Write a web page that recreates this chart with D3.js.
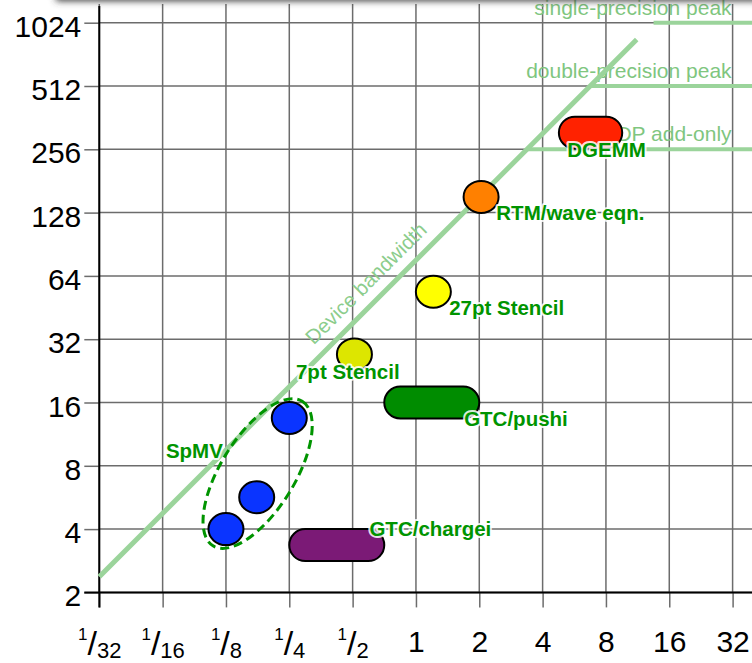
<!DOCTYPE html>
<html><head><meta charset="utf-8">
<script src="https://cdn.jsdelivr.net/npm/d3@7"></script>
<style>
body{margin:0;background:#fff;}
svg{display:block;font-family:"Liberation Sans",Arial,Helvetica,sans-serif;}
</style>
</head><body>
<svg id="c" width="752" height="663"></svg>
<script>
// ---- data ----
const xTicks = [1/32, 1/16, 1/8, 1/4, 1/2, 1, 2, 4, 8, 16, 32];
const xTickLabels = [["1","32"],["1","16"],["1","8"],["1","4"],["1","2"],"1","2","4","8","16","32"];
const yTicks = [2, 4, 8, 16, 32, 64, 128, 256, 512, 1024];
const yTickLabels = ["2","4","8","16","32","64","128","256","512","1024"];

const roofNames = ["single-precision peak", "double-precision peak", "DP add-only"];
const roofValues = [1024, 512, 256];
const bandwidth = 76;                 // slope of the device-bandwidth roof
const bandwidthRange = [1/32, 11.2];  // intensity range of the diagonal
const bandwidthLabel = "Device bandwidth";
const bandwidthLabelAt = 0.67;

const pointNames = ["SpMV", "SpMV", "SpMV", "7pt Stencil", "27pt Stencil", "RTM/wave eqn."];
const pointX = [0.125, 0.175, 0.25, 0.51, 1.21, 2.04];
const pointY = [4, 5.67, 13.5, 27.1, 53.8, 152];
const pointColors = ["#0a34ff", "#0a34ff", "#0a34ff", "#dde600", "#ffff00", "#ff8000"];

const rangeNames = ["GTC/chargei", "GTC/pushi", "DGEMM"];
const rangeXLow = [0.25, 0.707, 4.78];
const rangeXHigh = [0.707, 2.0, 9.56];
const rangeY = [3.36, 16, 307];
const rangeColors = ["#7b1a76", "#008c00", "#ff2200"];

const labelTexts = ["SpMV", "7pt Stencil", "27pt Stencil", "RTM/wave eqn.", "DGEMM", "GTC/pushi", "GTC/chargei"];
const labelX = [0.0648, 0.269, 1.438, 2.41, 5.24, 1.695, 0.601];
const labelY = [8.68, 20.7, 41.7, 118, 235, 12.37, 3.71];

// ---- scales ----
const svg = d3.select("#c");
const W = 752;
const x = d3.scaleLog().base(2).domain([1/32, 32]).range([99.3, 732.6]);
const y = d3.scaleLog().base(2).domain([2, 1024]).range([592.4, 22.7]);
const x0 = x(1/32), y0 = y(2);
const gridColor = "#6c6c6c";
const lightGreen = "#9bd49b";
const roofText = "#7fc67f";
const labelGreen = "#009400";

const defs = svg.append("defs");
defs.append("filter").attr("id","shadow").attr("x","-10%").attr("y","-200%").attr("width","120%").attr("height","500%")
  .append("feGaussianBlur").attr("stdDeviation", 3.5);

// ---- grid ----
const grid = svg.append("g");
grid.selectAll("line.v").data(xTicks).join("line").attr("class","v")
  .attr("x1", d => x(d)).attr("x2", d => x(d)).attr("y1", 4).attr("y2", y0)
  .attr("stroke", gridColor).attr("stroke-width", 1.5);
grid.selectAll("line.h").data(yTicks).join("line").attr("class","h")
  .attr("x1", x0).attr("x2", W + 5).attr("y1", d => y(d)).attr("y2", d => y(d))
  .attr("stroke", gridColor).attr("stroke-width", 1.5);

// ---- axes ----
const yAxis = svg.append("g").attr("transform", `translate(${x0},0)`)
  .call(d3.axisLeft(y).tickValues(yTicks).tickFormat((d, i) => yTickLabels[i]).tickSize(15).tickPadding(3).tickSizeOuter(0));
yAxis.select(".domain").remove();
yAxis.selectAll(".tick line").attr("stroke", gridColor).attr("stroke-width", 1.5);
yAxis.selectAll(".tick text").attr("font-size", 30).attr("fill", "#000").attr("dy", "0.45em")
  .attr("font-family", "Liberation Sans, Arial, sans-serif");

const xAxis = svg.append("g").attr("transform", `translate(0,${y0})`)
  .call(d3.axisBottom(x).tickValues(xTicks).tickFormat(() => "").tickSize(15).tickSizeOuter(0));
xAxis.select(".domain").remove();
xAxis.selectAll(".tick line").attr("stroke", gridColor).attr("stroke-width", 1.5);
xAxis.selectAll(".tick text").each(function(d, i) {
  const t = d3.select(this).attr("y", 651.7 - y0).attr("dy", 0).attr("fill", "#000")
    .attr("font-family", "Liberation Sans, Arial, sans-serif").attr("text-anchor", "middle");
  const lab = xTickLabels[i];
  t.text(null);
  if (Array.isArray(lab)) {
    t.append("tspan").attr("font-size", 17).attr("dy", -12).text(lab[0]);
    t.append("tspan").attr("font-size", 34).attr("dy", 15).text("/");
    t.append("tspan").attr("font-size", 22).attr("dy", 3).text(lab[1]);
  } else {
    t.append("tspan").attr("font-size", 30).text(lab);
  }
});

// axis lines
svg.append("line").attr("x1", x0).attr("x2", x0).attr("y1", 6).attr("y2", y0 + 15)
  .attr("stroke", "#000").attr("stroke-width", 2);
svg.append("line").attr("x1", x0 - 15).attr("x2", W + 5).attr("y1", y0).attr("y2", y0)
  .attr("stroke", "#000").attr("stroke-width", 2);

// ---- roofs ----
const roofs = roofValues.map((v, i) => ({v, name: roofNames[i]}));
svg.append("g").selectAll("text").data(roofs).join("text")
  .attr("x", x(32) - 1).attr("y", d => y(d.v) - 8)
  .attr("text-anchor", "end").attr("font-size", 21).attr("fill", roofText)
  .text(d => d.name);
svg.append("g").selectAll("line").data(roofs).join("line")
  .attr("x1", d => x(d.v / bandwidth)).attr("x2", W + 5)
  .attr("y1", d => y(d.v)).attr("y2", d => y(d.v))
  .attr("stroke", lightGreen).attr("stroke-width", 4);

const bwLine = d3.line().x(d => x(d)).y(d => y(d * bandwidth));
svg.append("path").datum(bandwidthRange).attr("d", bwLine)
  .attr("fill", "none").attr("stroke", lightGreen).attr("stroke-width", 5);
svg.append("text")
  .attr("transform", `translate(${x(bandwidthLabelAt)},${y(bandwidthLabelAt * bandwidth)}) rotate(-45)`)
  .attr("dy", -12).attr("text-anchor", "middle").attr("font-size", 20.5).attr("fill", "#8ccd8c")
  .text(bandwidthLabel);

// ---- SpMV grouping ellipse ----
const spIdx = pointNames.map((n, i) => n === "SpMV" ? i : -1).filter(i => i >= 0);
const pA = [x(pointX[spIdx[0]]), y(pointY[spIdx[0]])];
const pB = [x(pointX[spIdx[spIdx.length - 1]]), y(pointY[spIdx[spIdx.length - 1]])];
const cx = (pA[0] + pB[0]) / 2, cy = (pA[1] + pB[1]) / 2;
const ang = Math.atan2(pB[1] - pA[1], pB[0] - pA[0]) * 180 / Math.PI + 2;
const half = Math.hypot(pB[0] - pA[0], pB[1] - pA[1]) / 2;
svg.append("ellipse").attr("transform", `translate(${cx},${cy}) rotate(${ang})`)
  .attr("rx", half + 21).attr("ry", 37)
  .attr("fill", "none").attr("stroke", "#009400").attr("stroke-width", 3).attr("stroke-dasharray", "9,5");

// ---- ranges (pills) ----
const ranges = rangeNames.map((n, i) => ({n, lo: rangeXLow[i], hi: rangeXHigh[i], v: rangeY[i], c: rangeColors[i]}));
svg.append("g").selectAll("rect").data(ranges).join("rect")
  .attr("x", d => x(d.lo)).attr("width", d => x(d.hi) - x(d.lo))
  .attr("y", d => y(d.v) - 16).attr("height", 32).attr("rx", 16).attr("ry", 16)
  .attr("fill", d => d.c).attr("stroke", "#000").attr("stroke-width", 2);

// ---- points ----
const pts = pointX.map((v, i) => ({x: v, y: pointY[i], c: pointColors[i]}));
svg.append("g").selectAll("ellipse").data(pts).join("ellipse")
  .attr("cx", d => x(d.x)).attr("cy", d => y(d.y)).attr("rx", 17.5).attr("ry", 16)
  .attr("fill", d => d.c).attr("stroke", "#000").attr("stroke-width", 2);

// ---- labels ----
const labs = labelTexts.map((t, i) => ({t, x: labelX[i], y: labelY[i]}));
svg.append("g").selectAll("text").data(labs).join("text")
  .attr("x", d => x(d.x)).attr("y", d => y(d.y))
  .attr("font-size", 20.5).attr("font-weight", "bold").attr("fill", labelGreen)
  .attr("stroke", "rgba(255,255,255,0.85)").attr("stroke-width", 4).attr("stroke-linejoin", "round")
  .attr("paint-order", "stroke")
  .text(d => d.t);

// ---- top shadow ----
svg.append("rect").attr("x", 56).attr("y", -30).attr("width", 720).attr("height", 31)
  .attr("fill", "#3c3c3c").attr("filter", "url(#shadow)");
</script>
</body></html>
